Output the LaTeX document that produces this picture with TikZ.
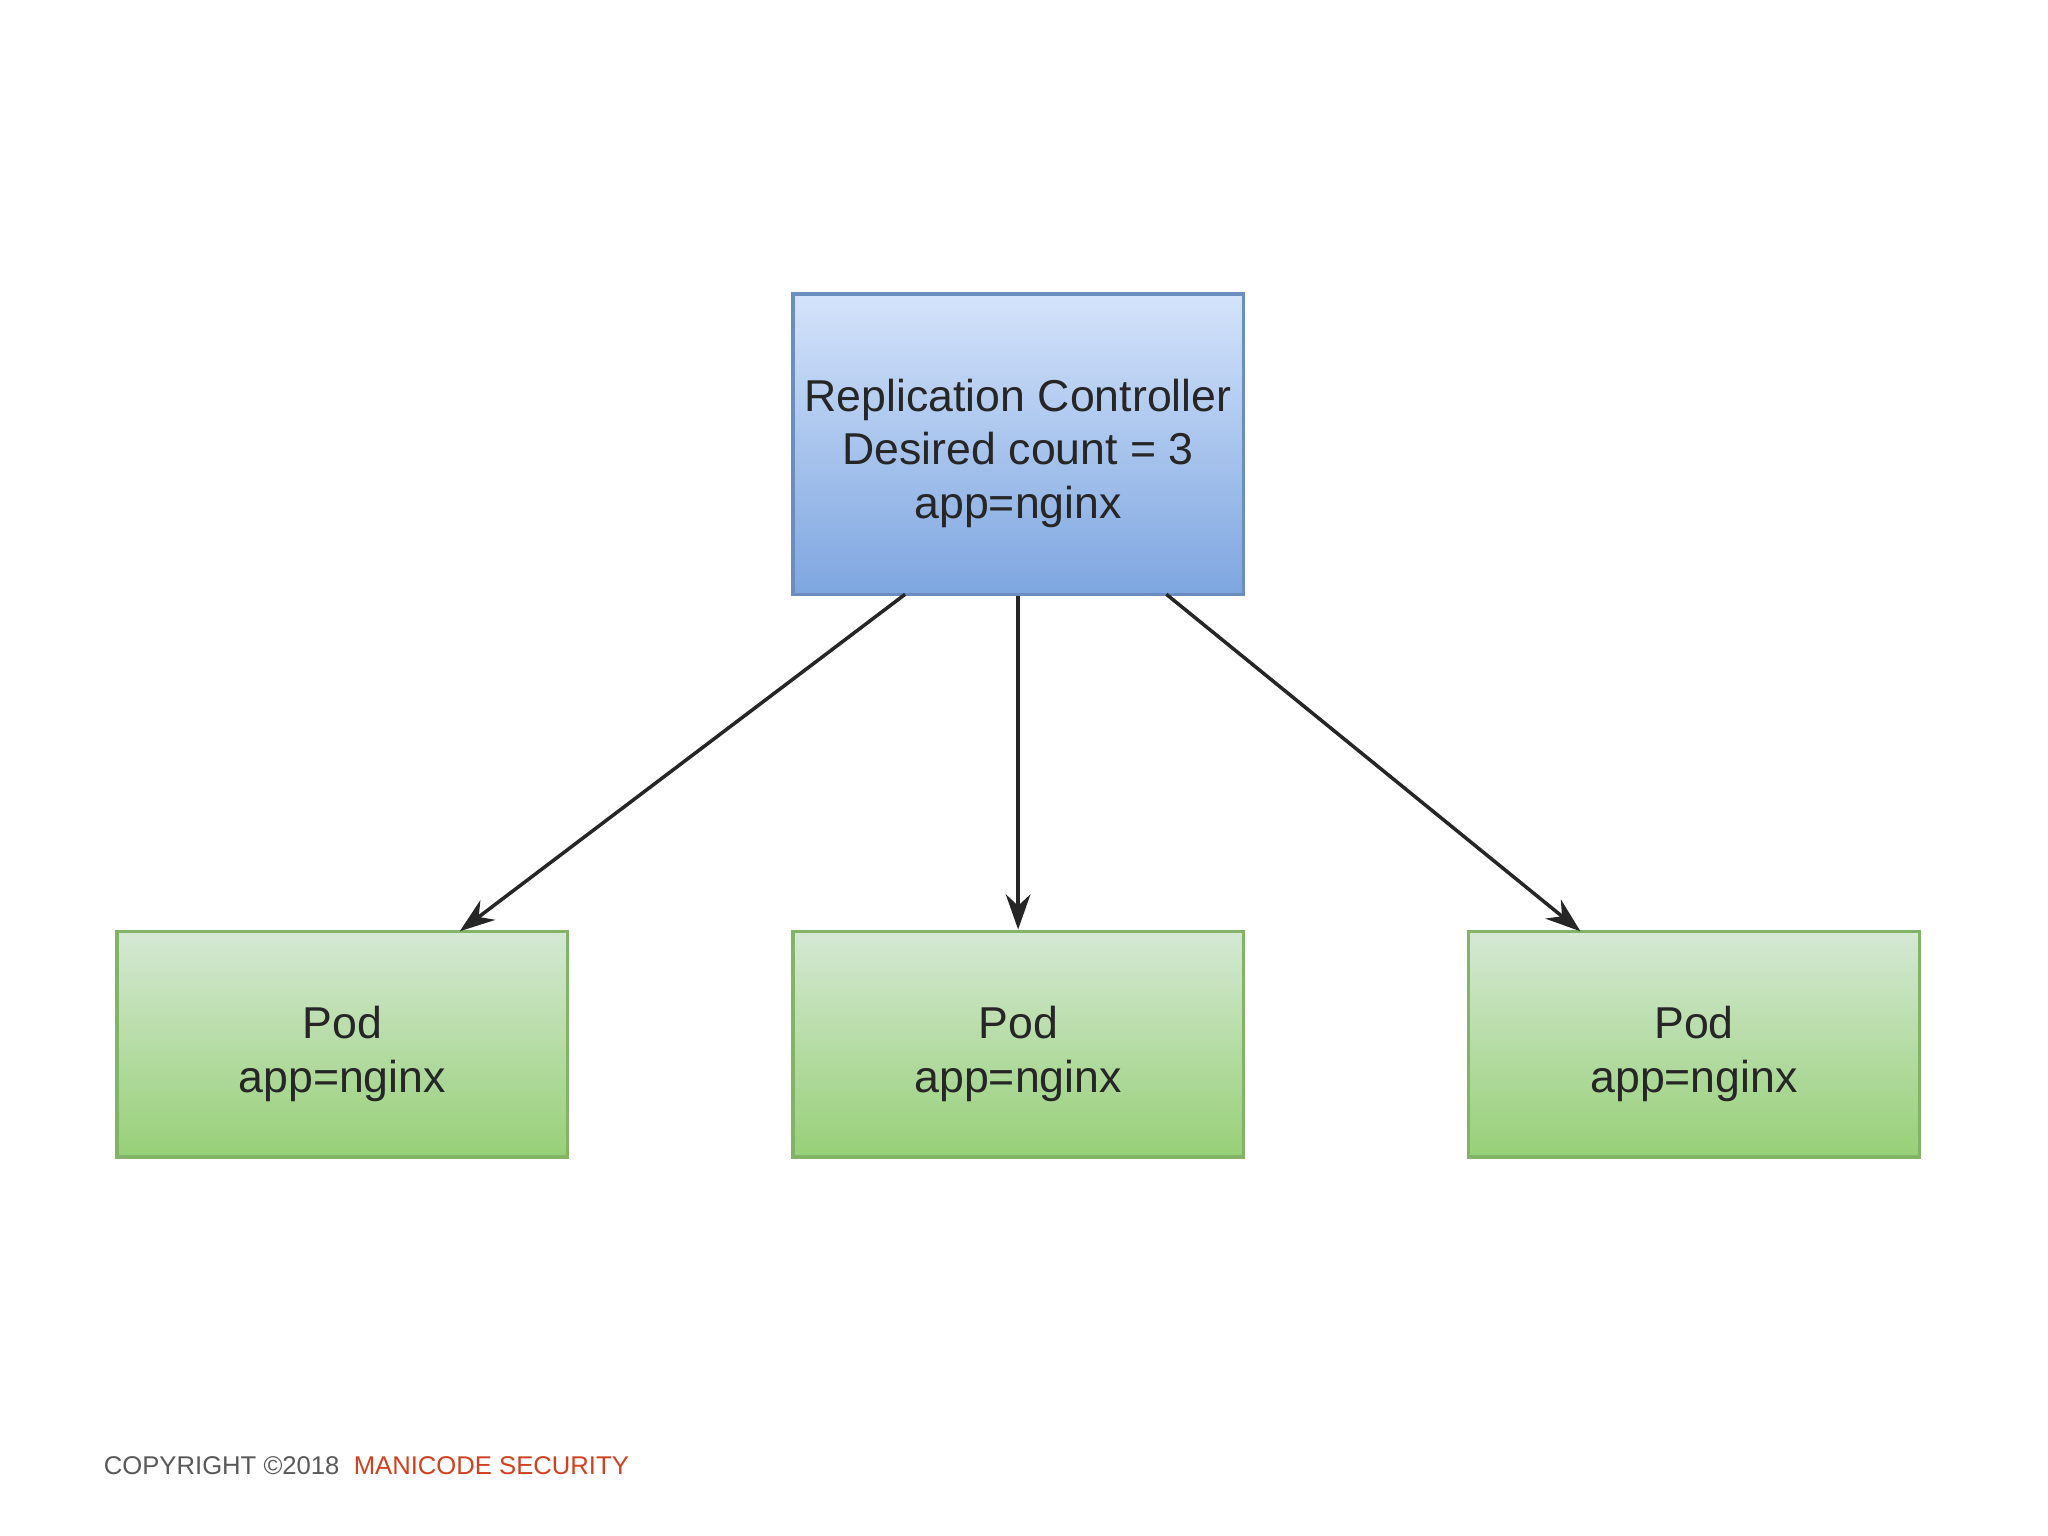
\documentclass[tikz,border=0pt]{standalone}
\usepackage{fontspec}
\setmainfont{Liberation Sans}
\usetikzlibrary{arrows.meta}
\definecolor{bt}{HTML}{D4E3FA}\definecolor{bb}{HTML}{7EA6E0}\definecolor{bd}{HTML}{6C8EBF}
\definecolor{gt}{HTML}{D5E8D4}\definecolor{gb}{HTML}{97D077}\definecolor{gd}{HTML}{82B366}
\definecolor{red}{HTML}{D2401E}
\begin{document}
\begin{tikzpicture}[x=0.01306cm,y=-0.01306cm,
  box/.style={line width=1pt, minimum width=345*0.01306cm, align=center, font=\fontsize{12.7}{15.2}\selectfont},
  rc/.style={box, draw=bd, top color=bt, bottom color=bb, text=black!85, minimum height=230*0.01306cm},
  pod/.style={box, draw=gd, top color=gt, bottom color=gb, text=black!85, minimum height=173*0.01306cm},
  arr/.style={-{Stealth[length=10pt,width=7pt]}, line width=1pt, black!85}]
\useasboundingbox (0,0) rectangle (1568,1176);
\node[rc] (rc) at (779.5,340) {};
\node[text=black!85, align=center, font=\fontsize{12.7}{15.2}\selectfont] (rct) at (779.5,347) {Replication Controller\\Desired count = 3\\app=nginx};
\node[pod] (p1) at (262,799.5) {};
\node[pod] (p2) at (779.5,799.5) {};
\node[pod] (p3) at (1297,799.5) {};
\foreach \n/\x in {1/262,2/779.5,3/1297}
  \node[text=black!85, align=center, font=\fontsize{12.7}{15.2}\selectfont] (t\n) at (\x,807) {Pod\\app=nginx};
\coordinate (a1) at (693,455); \coordinate (e1) at (352,713);
\coordinate (e3) at (1210,713); \coordinate (a3) at (893,455);
\draw[arr] (a1) -- (e1);
\draw[arr] (rc.south) -- (p2.north);
\draw[arr] (a3) -- (e3);
\node[anchor=west, font=\fontsize{7.3}{9}\selectfont, inner sep=0] (ft) at (79,1122) {\textcolor{black!65}{COPYRIGHT ©2018}\ \ \textcolor{red}{MANICODE SECURITY}};
\end{tikzpicture}
\end{document}
